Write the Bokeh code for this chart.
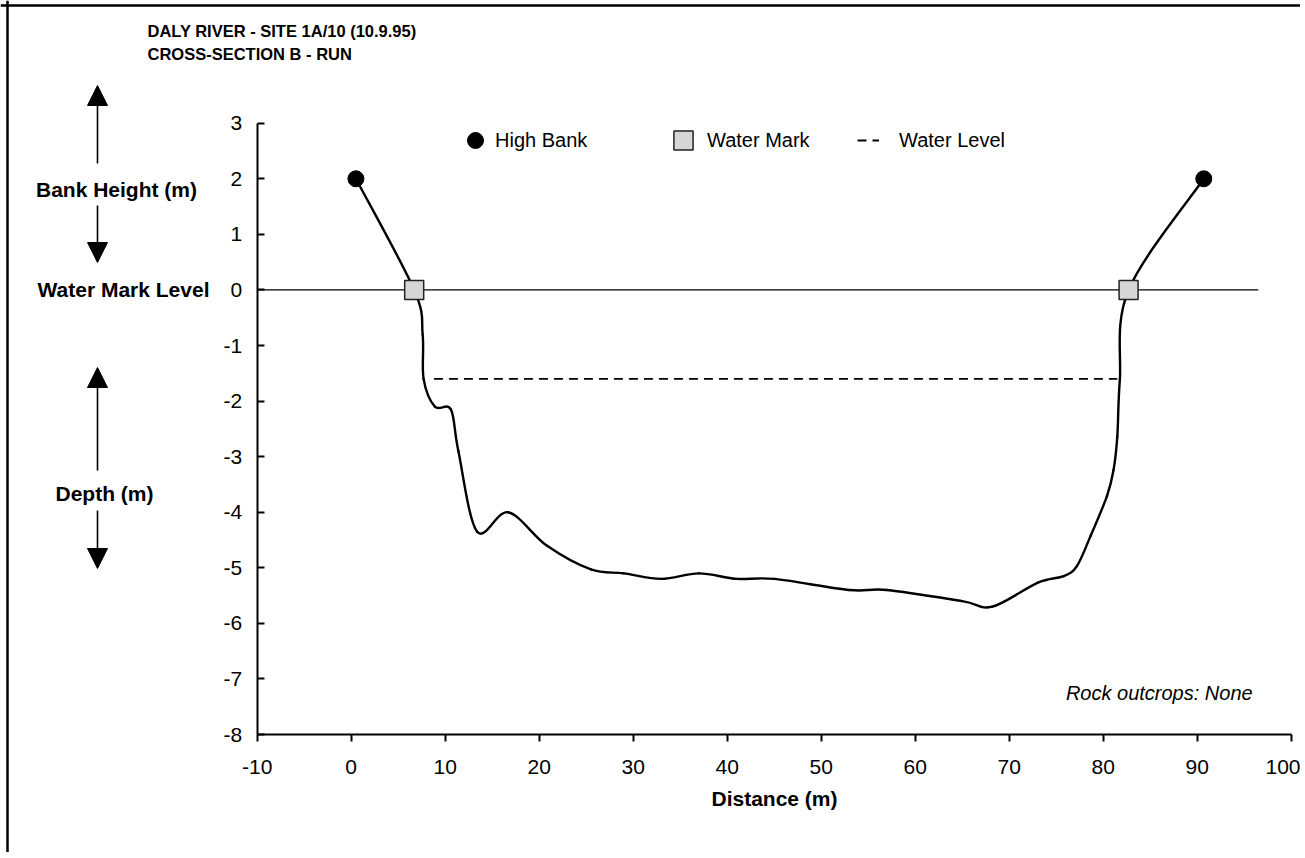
from bokeh.plotting import figure
from bokeh.models import (Range1d, FixedTicker, Label, Arrow, NormalHead, Legend, LegendItem,
                          Span)
from bokeh.embed import file_html
from bokeh.resources import INLINE

# ---------------- data ----------------
title_lines = ["DALY RIVER  -  SITE 1A/10  (10.9.95)", "CROSS-SECTION B  -  RUN"]

profile_x = [0.5, 6.7, 7.6, 7.7, 8.9, 10.6, 11.4, 13.4, 16.7, 20.8, 25.5, 29.0, 33.0, 37.0,
             41.0, 45.0, 53.0, 57.0, 65.0, 68.2, 73.0, 75.8, 77.2, 78.65, 80.4, 81.1, 81.5,
             81.77, 82.7, 90.7]
profile_y = [2.0, 0.0, -0.8, -1.6, -2.1, -2.15, -2.9, -4.35, -4.0, -4.6, -5.03, -5.1, -5.2, -5.1,
             -5.2, -5.2, -5.4, -5.4, -5.6, -5.7, -5.27, -5.15, -4.97, -4.43, -3.71, -3.24, -2.64,
             -1.62, 0.0, 2.0]

bank_x = [0.5, 90.7]
bank_y = [2.0, 2.0]
mark_x = [6.7, 82.7]
mark_y = [0.0, 0.0]
wm_level_x = [-10.0, 96.5]
wm_level_y = [0.0, 0.0]
water_level_x = [8.8, 81.5]
water_level_y = [-1.6, -1.6]

x_ticks = [-10, 0, 10, 20, 30, 40, 50, 60, 70, 80, 90, 100]
x_tick_labels = ["-10", "0", "10", "20", "30", "40", "50", "60", "70", "80", "90", "100"]
y_ticks = [-8, -7, -6, -5, -4, -3, -2, -1, 0, 1, 2, 3]
y_tick_labels = ["-8", "-7", "-6", "-5", "-4", "-3", "-2", "-1", "0", "1", "2", "3"]

legend_labels = ["High Bank", "Water Mark", "Water Level"]
x_title = "Distance (m)"
side_labels = ["Bank Height (m)", "Water Mark Level", "Depth (m)"]
note_text = "Rock outcrops: None"

FONT = "Liberation Sans"
W, H = 1300, 852

# ---------------- figure ----------------
# The frame fills the whole canvas; the axes are drawn at fixed data locations.
p = figure(width=W, height=H, output_backend="svg", toolbar_location=None,
           x_range=Range1d(-37.31, 100.99), y_range=Range1d(-10.123, 5.208),
           min_border=0)
p.background_fill_color = "white"
p.border_fill_color = "white"
p.outline_line_color = None
p.grid.visible = False

for ax in (p.xaxis[0], p.yaxis[0]):
    ax.axis_line_width = 2
    ax.axis_line_color = "black"
    ax.major_tick_line_width = 2
    ax.major_tick_line_color = "black"
    ax.minor_tick_line_color = None
    ax.major_label_text_font = FONT
    ax.major_label_text_font_size = "21px"
    ax.major_label_text_color = "black"

p.xaxis.fixed_location = -8
p.xaxis.bounds = (-10, 100)
p.yaxis.fixed_location = -10
p.yaxis.bounds = (-8, 3)

p.xaxis.ticker = FixedTicker(ticks=x_ticks)
p.yaxis.ticker = FixedTicker(ticks=y_ticks)
p.xaxis.major_label_overrides = dict(zip(x_ticks, x_tick_labels))
p.yaxis.major_label_overrides = dict(zip(y_ticks, y_tick_labels))
p.xaxis.major_tick_in = 0
p.xaxis.major_tick_out = 7
p.xaxis.major_label_standoff = 18
p.yaxis.major_tick_in = 7
p.yaxis.major_tick_out = 0
p.yaxis.major_label_standoff = 15

p.xaxis.axis_label = x_title
p.xaxis.axis_label_text_font = FONT
p.xaxis.axis_label_text_font_size = "21px"
p.xaxis.axis_label_text_font_style = "bold"
p.xaxis.axis_label_text_color = "black"
p.xaxis.axis_label_standoff = 10

# outer border (only the left and top edges fall inside the window, as in the original)
p.add_layout(Span(location=7, location_units="screen", dimension="height",
                  line_color="black", line_width=2.5))
p.add_layout(Span(location=H - 5, location_units="screen", dimension="width",
                  line_color="black", line_width=2.5))

# water mark level reference line
p.line(wm_level_x, wm_level_y, line_color="black", line_width=1.3)

# water level (dashed)
wl_r = p.line(water_level_x, water_level_y, line_color="black", line_width=1.8, line_dash="9 6")

# smoothed cross-section profile (Excel-style smoothing: cubic Bezier through the points)
n = len(profile_x)
bx0, by0, bx1, by1, bcx0, bcy0, bcx1, bcy1 = [], [], [], [], [], [], [], []
for i in range(n - 1):
    prv = i - 1 if i > 0 else i
    nxt = i + 2 if i + 2 < n else i + 1
    bx0.append(profile_x[i]); by0.append(profile_y[i])
    bx1.append(profile_x[i + 1]); by1.append(profile_y[i + 1])
    bcx0.append(profile_x[i] + (profile_x[i + 1] - profile_x[prv]) / 6.0)
    bcy0.append(profile_y[i] + (profile_y[i + 1] - profile_y[prv]) / 6.0)
    bcx1.append(profile_x[i + 1] - (profile_x[nxt] - profile_x[i]) / 6.0)
    bcy1.append(profile_y[i + 1] - (profile_y[nxt] - profile_y[i]) / 6.0)
p.bezier(x0=bx0, y0=by0, x1=bx1, y1=by1, cx0=bcx0, cy0=bcy0, cx1=bcx1, cy1=bcy1,
         line_color="black", line_width=2.4, line_cap="round")

# markers
bank_r = p.scatter(bank_x, bank_y, marker="circle", size=16, fill_color="black", line_color="black")
mark_r = p.scatter(mark_x, mark_y, marker="square", size=19, fill_color="#d6d6d6",
                   line_color="#222222", line_width=1.5)

# legends (three separate entries, as in the original)
def make_legend(label, rend, loc, gw, gh, standoff):
    lg = Legend(items=[LegendItem(label=label, renderers=[rend])], location=loc,
                orientation="horizontal", glyph_width=gw, glyph_height=gh,
                label_standoff=standoff, padding=0, margin=0, spacing=0,
                border_line_color=None, background_fill_alpha=0,
                label_text_font=FONT, label_text_font_size="20px", label_text_color="black",
                label_height=gh)
    p.add_layout(lg)

make_legend(legend_labels[0], bank_r, (455, 692), 40, 40, 0)
make_legend(legend_labels[1], mark_r, (659, 688), 48, 48, 0)
make_legend(legend_labels[2], wl_r, (857, 692), 22, 40, 20)

# text outside the plotting area
def text_label(x, y, txt, size="21px", style="bold", font=FONT, align="left", y_units="screen"):
    p.add_layout(Label(x=x, y=y, x_units="screen", y_units=y_units, text=txt,
                       text_font=font, text_font_size=size, text_font_style=style,
                       text_baseline="middle", text_align=align, text_color="black"))

text_label(147, H - 30, title_lines[0], size="16.5px")
text_label(147, H - 53, title_lines[1], size="16.5px")

text_label(116, H - 189, side_labels[0], align="center")
text_label(123, 0, side_labels[1], align="center", y_units="data")
text_label(104, H - 493, side_labels[2], align="center")

# arrows: body (no heads) plus a separate head
AX = 97
def arrow(py_start, py_base, py_tip):
    p.add_layout(Arrow(start=None, end=None, x_start=AX, y_start=H - py_start, x_end=AX,
                       y_end=H - py_base, start_units="screen", end_units="screen",
                       line_color="black", line_width=1.6))
    d = 1 if py_tip < py_base else -1
    p.add_layout(Arrow(start=None, end=NormalHead(size=20, fill_color="black", line_color="black",
                                                  line_width=1),
                       x_start=AX, y_start=H - py_tip - d * 1, x_end=AX, y_end=H - py_tip,
                       start_units="screen", end_units="screen",
                       line_color="black", line_width=1.6))

arrow(163, 100, 85)
arrow(205, 247, 262)
arrow(470, 372, 367)
arrow(510, 563, 568)

# note
p.add_layout(Label(x=95.9, y=-7.25, text=note_text, text_font=FONT, text_font_size="20px",
                   text_font_style="italic", text_baseline="middle", text_align="right",
                   text_color="black"))

open("out.html", "w").write(file_html(p, INLINE))
